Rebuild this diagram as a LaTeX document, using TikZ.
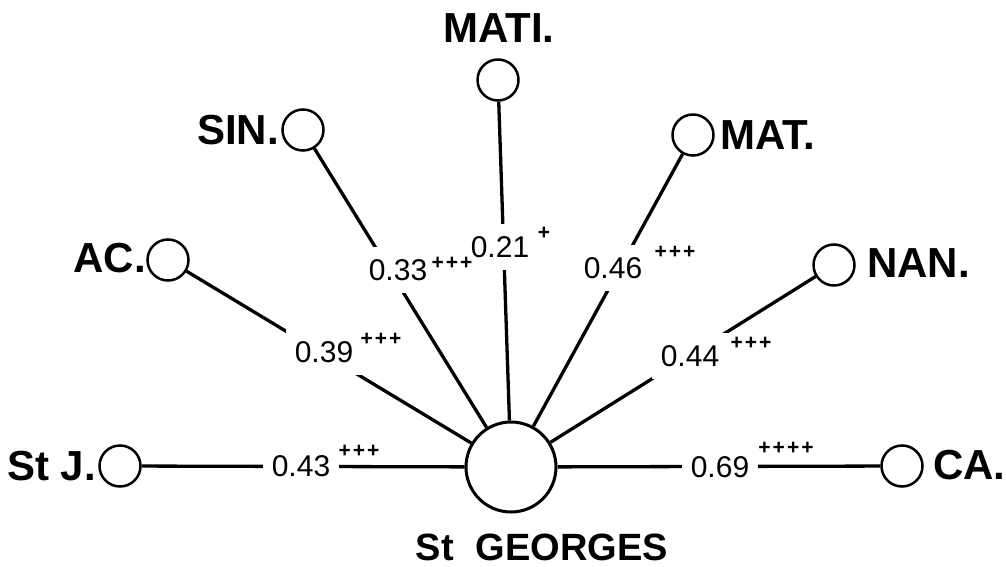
\documentclass[tikz,border=0pt]{standalone}
\usepackage{fontspec}
\setmainfont{Liberation Sans}
\begin{document}
\begin{tikzpicture}[x=1pt,y=-1pt,
  site/.style={circle,draw,line width=2.5pt,minimum size=41pt,inner sep=0pt},
  hub/.style={circle,draw,line width=3pt,minimum size=90pt,inner sep=0pt},
  tag/.style={inner sep=0pt,font=\bfseries\fontsize{42}{42}\selectfont},
  coef/.style={fill=white,inner xsep=9pt,inner ysep=12pt,font=\fontsize{30}{30}\selectfont},
  sig/.style={inner sep=0pt,font=\bfseries\fontsize{21}{21}\selectfont},
  link/.style={line width=3.3pt}]
\useasboundingbox (0,0) rectangle (1006,567);

% central population and the seven surrounding ones
\node[hub]  (ctr)  at (511,467) {};
\node[site] (stj)  at (120,466) {};
\node[site] (ac)   at (168,260) {};
\node[site] (sin)  at (303,130) {};
\node[site] (mati) at (498,80)  {};
\node[site] (mat)  at (693,135) {};
\node[site] (nan)  at (834,265) {};
\node[site] (ca)   at (902,466) {};

% names
\node[tag,anchor=east] (tstj)  at (96,466)  {St J.};
\node[tag,anchor=east] (tac)   at (146,258) {AC.};
\node[tag,anchor=east] (tsin)  at (279,130) {SIN.};
\node[tag]             (tmati) at (499,28)  {MATI.};
\node[tag,anchor=west] (tmat)  at (720,135) {MAT.};
\node[tag,anchor=west] (tnan)  at (867,263) {NAN.};
\node[tag,anchor=west] (tca)   at (933,465) {CA.};
\node[inner sep=0pt,font=\bfseries\fontsize{38}{38}\selectfont] (tctr) at (542,547) {St\hspace{22pt}GEORGES};

% links to the centre
\draw[link] (stj)  -- (ctr);
\draw[link] (ac)   -- (ctr);
\draw[link] (sin)  -- (ctr);
\draw[link] (mati) -- (ctr);
\draw[link] (mat)  -- (ctr);
\draw[link] (nan)  -- (ctr);
\draw[link] (ca)   -- (ctr);

% coefficients, masking the links
\node[coef] (c43) at (301,466) {0.43};
\node[coef] (c39) at (324,352) {0.39};
\node[coef] (c33) at (398,270) {0.33};
\node[coef] (c21) at (500,247) {0.21};
\node[coef] (c46) at (613,268) {0.46};
\node[coef] (c44) at (690,356) {0.44};
\node[coef] (c69) at (720,467) {0.69};

% significance marks
\node[sig] (s43) at (359,451) {+\kern2pt+\kern2pt+};
\node[sig] (s39) at (381,339) {+\kern2pt+\kern2pt+};
\node[sig] (s33) at (452,263) {+\kern2pt+\kern2pt+};
\node[sig] (s21) at (544,233) {+};
\node[sig] (s46) at (675,252) {+\kern2pt+\kern2pt+};
\node[sig] (s44) at (751,343) {+\kern2pt+\kern2pt+};
\node[sig] (s69) at (786,448) {+\kern2pt+\kern2pt+\kern2pt+};
\end{tikzpicture}
\end{document}
